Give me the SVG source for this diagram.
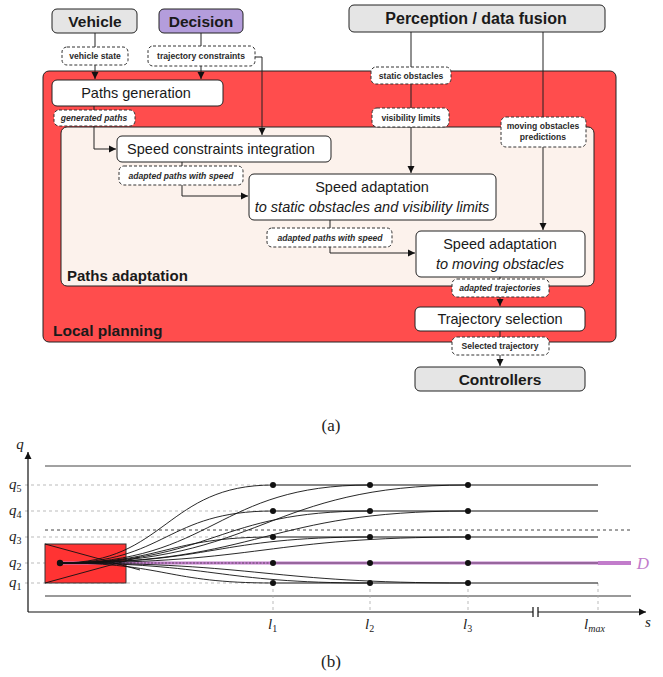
<svg xmlns="http://www.w3.org/2000/svg" width="663" height="677" viewBox="0 0 663 677">
<style>
.box{stroke:#222;stroke-width:1}
.ext{fill:#e5e5e5}
.wht{fill:#fff}
.lbl{fill:#fff;stroke:#333;stroke-width:1;stroke-dasharray:3,2}
.t{font-family:"Liberation Sans",Arial,sans-serif;fill:#1a1a1a;text-anchor:middle}
.tb{font-weight:bold;font-size:15.5px}
.tn{font-size:14.5px}
.ts{font-size:8.6px;font-weight:bold;fill:#2a2a2a}
.it{font-style:italic}
.con{fill:none;stroke:#222;stroke-width:1}
.ser{font-family:"Liberation Serif","Times New Roman",serif;fill:#222}
.gd{stroke:#aaa;stroke-width:0.8;stroke-dasharray:3,3;fill:none}
.cv{fill:none;stroke:#111;stroke-width:0.9}
.hl{stroke:#111;stroke-width:1.2}
</style>
<defs>
<marker id="ah" markerWidth="8" markerHeight="8" refX="7" refY="4" orient="auto" markerUnits="userSpaceOnUse">
<path d="M0,0.5 L7,4 L0,7.5 z" fill="#111"/>
</marker>
</defs>

<!-- Part (a) containers -->
<g id="local-planning">
<rect x="43" y="71" width="573" height="271" rx="6" fill="#ff4d4d" class="box"/>
<text x="53" y="336" class="t tb" style="text-anchor:start">Local planning</text>
</g>
<g id="paths-adaptation">
<rect x="61" y="127" width="533" height="159" rx="6" fill="#fcf2ec" class="box"/>
<text x="67" y="281" class="t tb" style="text-anchor:start;font-size:15px">Paths adaptation</text>
</g>

<!-- connectors -->
<g id="connectors">
<path class="con" d="M95,33 V79" marker-end="url(#ah)"/>
<path class="con" d="M201,33 V79" marker-end="url(#ah)"/>
<path class="con" d="M255,57 H262 V135" marker-end="url(#ah)"/>
<path class="con" d="M94,106 V149 H116" marker-end="url(#ah)"/>
<path class="con" d="M411,32 V173" marker-end="url(#ah)"/>
<path class="con" d="M543,32 V230" marker-end="url(#ah)"/>
<path class="con" d="M182,162 V196 H248" marker-end="url(#ah)"/>
<path class="con" d="M330,220 V253 H415" marker-end="url(#ah)"/>
<path class="con" d="M500,277 V306" marker-end="url(#ah)"/>
<path class="con" d="M500,331 V366" marker-end="url(#ah)"/>
</g>

<!-- nodes -->
<g id="vehicle">
<rect x="52" y="9" width="85" height="24" rx="5" class="box ext"/>
<text x="95" y="26.5" class="t tb">Vehicle</text>
</g>
<g id="decision">
<rect x="159" y="9" width="84" height="24" rx="5" class="box" fill="#b49ddc"/>
<text x="201" y="26.5" class="t tb">Decision</text>
</g>
<g id="perception">
<rect x="349" y="5" width="256" height="27" rx="5" class="box ext"/>
<text x="476" y="24" class="t tb" style="font-size:16px">Perception / data fusion</text>
</g>
<g id="paths-generation">
<rect x="52" y="80" width="171" height="26" rx="5" class="box wht"/>
<text x="136" y="98" class="t tn">Paths generation</text>
</g>
<g id="speed-constraints">
<rect x="117" y="136" width="214" height="26" rx="5" class="box wht"/>
<text x="221" y="154" class="t tn">Speed constraints integration</text>
</g>
<g id="speed-adaptation-static">
<rect x="249" y="174" width="247" height="46" rx="5" class="box wht"/>
<text x="372" y="192" class="t tn">Speed adaptation</text>
<text x="372" y="212" class="t tn it">to static obstacles and visibility limits</text>
</g>
<g id="speed-adaptation-moving">
<rect x="416" y="231" width="169" height="46" rx="5" class="box wht"/>
<text x="500" y="249" class="t tn">Speed adaptation</text>
<text x="500" y="269" class="t tn it">to moving obstacles</text>
</g>
<g id="trajectory-selection">
<rect x="415" y="307" width="170" height="24" rx="5" class="box wht"/>
<text x="500" y="324" class="t tn">Trajectory selection</text>
</g>
<g id="controllers">
<rect x="415" y="367" width="170" height="24" rx="5" class="box ext"/>
<text x="500" y="384.5" class="t tb">Controllers</text>
</g>

<!-- edge labels -->
<g id="lbl-vehicle-state">
<rect x="62" y="47" width="66" height="18" rx="5" class="lbl"/>
<text x="95" y="59" class="t ts">vehicle state</text>
</g>
<g id="lbl-trajectory-constraints">
<rect x="148" y="46" width="107" height="20" rx="5" class="lbl"/>
<text x="201" y="59" class="t ts">trajectory constraints</text>
</g>
<g id="lbl-generated-paths">
<rect x="54" y="110" width="81" height="16" rx="5" class="lbl"/>
<text x="94" y="121" class="t ts it">generated paths</text>
</g>
<g id="lbl-static-obstacles">
<rect x="371" y="67" width="80" height="17" rx="5" class="lbl"/>
<text x="411" y="78.5" class="t ts">static obstacles</text>
</g>
<g id="lbl-visibility-limits">
<rect x="372" y="108" width="77" height="19" rx="5" class="lbl"/>
<text x="411" y="120.5" class="t ts">visibility limits</text>
</g>
<g id="lbl-moving-obstacles">
<rect x="501" y="117" width="85" height="30" rx="5" class="lbl"/>
<text x="543" y="129" class="t ts">moving obstacles</text>
<text x="543" y="139.5" class="t ts">predictions</text>
</g>
<g id="lbl-adapted-paths-1">
<rect x="119" y="166" width="124" height="19" rx="5" class="lbl"/>
<text x="181" y="178.5" class="t ts it">adapted paths with speed</text>
</g>
<g id="lbl-adapted-paths-2">
<rect x="267" y="228" width="125" height="19" rx="5" class="lbl"/>
<text x="330" y="240.5" class="t ts it">adapted paths with speed</text>
</g>
<g id="lbl-adapted-trajectories">
<rect x="452" y="279" width="97" height="18" rx="5" class="lbl"/>
<text x="500" y="291" class="t ts it">adapted trajectories</text>
</g>
<g id="lbl-selected-trajectory">
<rect x="452" y="337" width="97" height="18" rx="5" class="lbl"/>
<text x="500" y="349" class="t ts">Selected trajectory</text>
</g>

<text x="331" y="431" class="ser" font-size="17" text-anchor="middle">(a)</text>

<!-- Part (b) -->
<g id="plot">
<line x1="45" y1="466" x2="631" y2="466" stroke="#444" stroke-width="1"/>
<line x1="45" y1="596" x2="631" y2="596" stroke="#777" stroke-width="1.6"/>
<line x1="45" y1="530" x2="631" y2="530" stroke="#444" stroke-width="1" stroke-dasharray="3,3"/>
<path class="gd" d="M25,485 H273 M25,511 H273 M25,537 H273 M25,563 H273 M25,583 H273"/>
<path class="gd" d="M273,583 V612 M370,583 V612 M468,583 V612 M598,583 V612"/>
<rect x="45" y="544" width="81" height="39" fill="#ff3333" stroke="#333" stroke-width="1"/>
<line x1="60" y1="563" x2="598" y2="563" stroke="#c27ccb" stroke-width="3"/>
<line x1="598" y1="563" x2="631" y2="563" stroke="#c27ccb" stroke-width="4"/>
<line x1="60" y1="563" x2="273" y2="563" stroke="#333" stroke-width="0.7" stroke-dasharray="2,1.5"/>
<line x1="273" y1="563" x2="598" y2="563" stroke="#333" stroke-width="0.6"/>
<text x="643" y="569" class="ser" font-size="17" font-style="italic" style="fill:#c27ccb" text-anchor="middle">D</text>
<path class="cv" d="M45,544 L140,570 M45,583 L140,557"/>
<path class="cv" d="M60,563 C166,563 166,485 273,485 M60,563 C166,563 166,511 273,511 M60,563 C166,563 166,537 273,537 M60,563 C166,563 166,583 273,583"/>
<path class="cv" d="M60,563 C215,563 215,485 370,485 M60,563 C215,563 215,511 370,511 M60,563 C215,563 215,537 370,537 M60,563 C215,563 215,583 370,583"/>
<path class="cv" d="M60,563 C264,563 264,485 468,485 M60,563 C264,563 264,511 468,511 M60,563 C264,563 264,537 468,537 M60,563 C264,563 264,583 468,583"/>
<path class="hl" d="M273,485 H598 M273,511 H598 M273,537 H598 M273,583 H598"/>
<g fill="#111">
<circle cx="60" cy="563" r="3.2"/>
<circle cx="273" cy="485" r="3"/><circle cx="273" cy="511" r="3"/><circle cx="273" cy="537" r="3"/><circle cx="273" cy="563" r="3"/><circle cx="273" cy="583" r="3"/>
<circle cx="370" cy="485" r="3"/><circle cx="370" cy="511" r="3"/><circle cx="370" cy="537" r="3"/><circle cx="370" cy="563" r="3"/><circle cx="370" cy="583" r="3"/>
<circle cx="468" cy="485" r="3"/><circle cx="468" cy="511" r="3"/><circle cx="468" cy="537" r="3"/><circle cx="468" cy="563" r="3"/><circle cx="468" cy="583" r="3"/>
</g>
<path d="M28,612 V452" stroke="#111" stroke-width="1.2" fill="none" marker-end="url(#ah)"/>
<path d="M28,612 H646" stroke="#111" stroke-width="1.2" fill="none" marker-end="url(#ah)"/>
<rect x="533" y="607" width="5" height="10" fill="#fff"/>
<path d="M533,607 V617 M538,607 V617" stroke="#111" stroke-width="1.2"/>
<text x="20" y="449" class="ser" font-size="15" font-style="italic" text-anchor="middle">q</text>
<text x="648" y="627" class="ser" font-size="15" font-style="italic" text-anchor="middle">s</text>
<g class="ser" font-size="15" font-style="italic">
<text x="9" y="489">q<tspan font-size="10" dy="3" font-style="normal">5</tspan></text>
<text x="9" y="515">q<tspan font-size="10" dy="3" font-style="normal">4</tspan></text>
<text x="9" y="541">q<tspan font-size="10" dy="3" font-style="normal">3</tspan></text>
<text x="9" y="567">q<tspan font-size="10" dy="3" font-style="normal">2</tspan></text>
<text x="9" y="587">q<tspan font-size="10" dy="3" font-style="normal">1</tspan></text>
<text x="268" y="629">l<tspan font-size="10" dy="3" font-style="normal">1</tspan></text>
<text x="365" y="629">l<tspan font-size="10" dy="3" font-style="normal">2</tspan></text>
<text x="463" y="629">l<tspan font-size="10" dy="3" font-style="normal">3</tspan></text>
<text x="584" y="629">l<tspan font-size="10" dy="3">max</tspan></text>
</g>
</g>
<text x="331" y="667" class="ser" font-size="17" text-anchor="middle">(b)</text>
</svg>
